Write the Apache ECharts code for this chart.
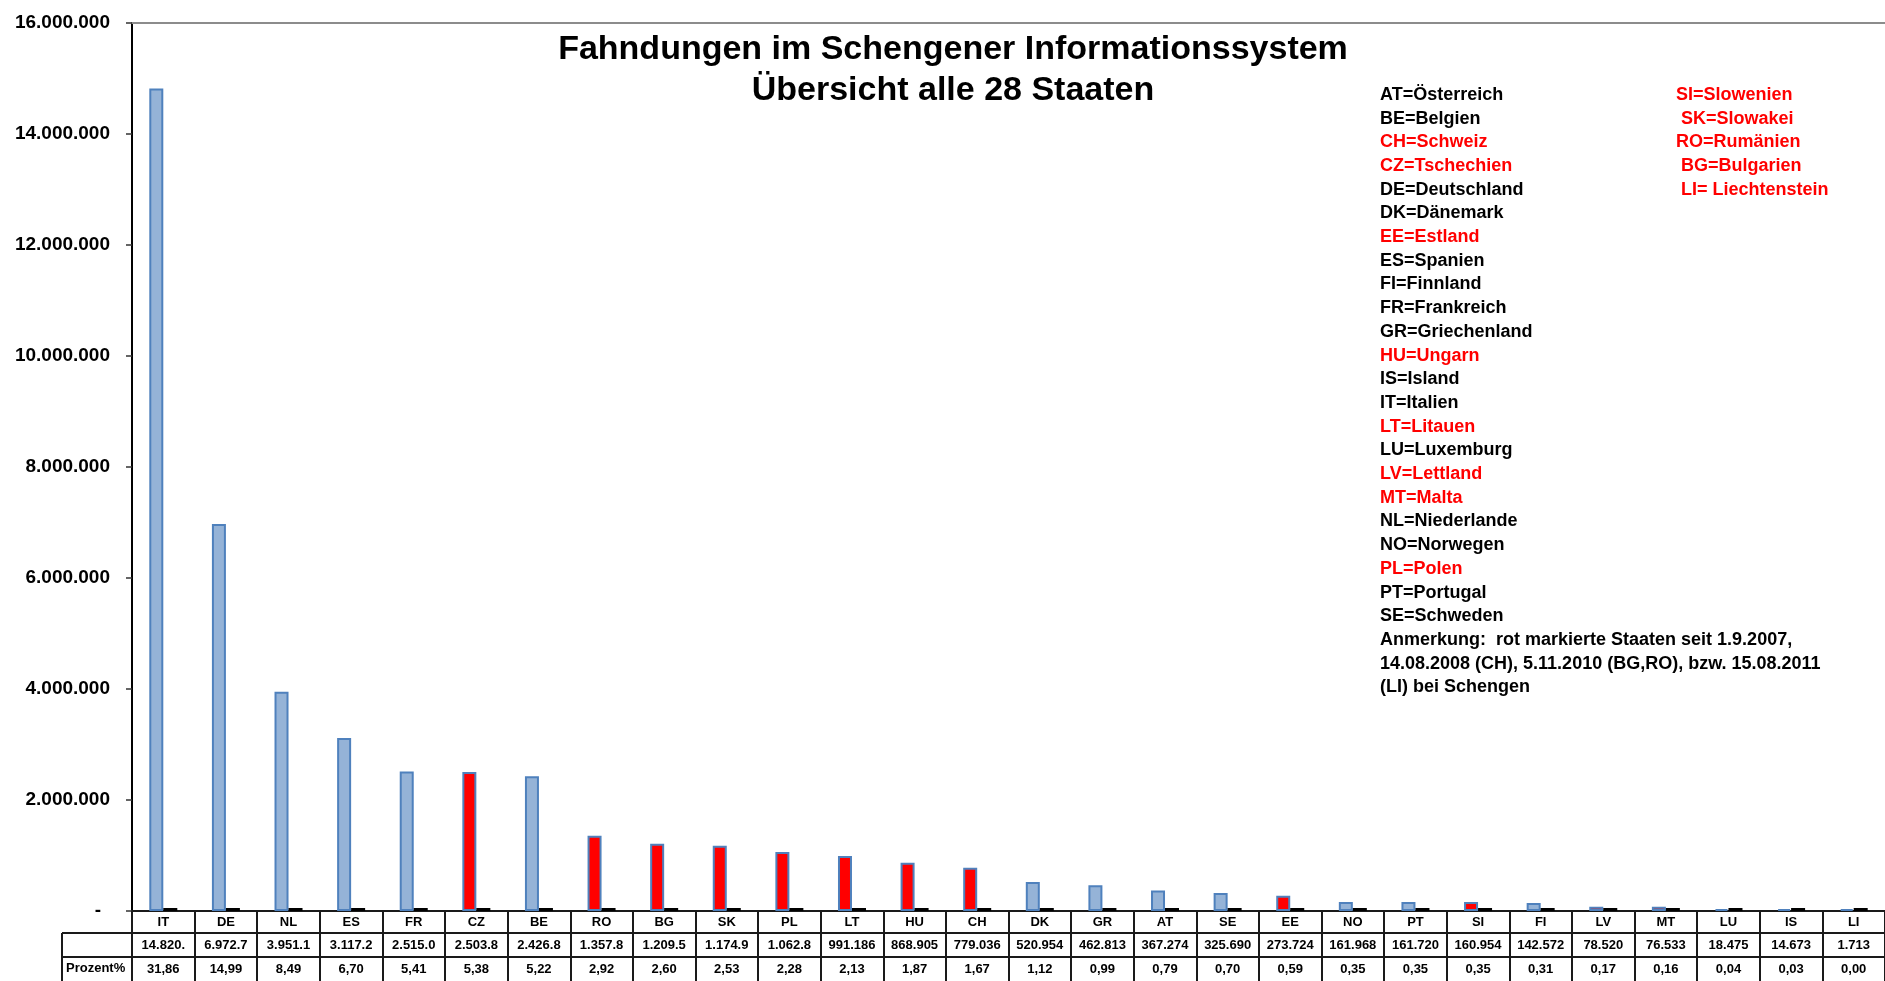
<!DOCTYPE html>
<html lang="de">
<head>
<meta charset="utf-8">
<title>Fahndungen im Schengener Informationssystem</title>
<script src="https://cdn.jsdelivr.net/npm/echarts@6/dist/echarts.min.js"></script>
<style>
  html, body { margin: 0; padding: 0; background: #fff; }
  #chart { width: 1885px; height: 981px; }
</style>
</head>
<body>
<div id="chart"></div>
<script>
// Staaten, sortiert nach Anzahl der Fahndungen
const countries = ['IT','DE','NL','ES','FR','CZ','BE','RO','BG','SK','PL','LT','HU','CH',
                   'DK','GR','AT','SE','EE','NO','PT','SI','FI','LV','MT','LU','IS','LI'];
// Anzahl Fahndungen je Staat
const alerts = [14820000, 6972700, 3951100, 3117200, 2515000, 2503800, 2426800, 1357800,
                1209500, 1174900, 1062800, 991186, 868905, 779036, 520954, 462813, 367274,
                325690, 273724, 161968, 161720, 160954, 142572, 78520, 76533, 18475, 14673, 1713];
// Anteil in Prozent
const percent = [31.86, 14.99, 8.49, 6.70, 5.41, 5.38, 5.22, 2.92, 2.60, 2.53, 2.28, 2.13, 1.87,
                 1.67, 1.12, 0.99, 0.79, 0.70, 0.59, 0.35, 0.35, 0.35, 0.31, 0.17, 0.16, 0.04, 0.03, 0.00];
// Staaten, die erst ab 2007 bzw. später dazukamen (rot markiert)
const lateMembers = ['CZ','EE','HU','LT','LV','MT','PL','SI','SK','CH','RO','BG','LI'];
// Achsenbeschriftung
const yTicks = { min: 0, max: 16000000, interval: 2000000 };

// Erklärung der Kürzel
const namesLeft = [
  ['AT','Österreich'], ['BE','Belgien'], ['CH','Schweiz'], ['CZ','Tschechien'],
  ['DE','Deutschland'], ['DK','Dänemark'], ['EE','Estland'], ['ES','Spanien'],
  ['FI','Finnland'], ['FR','Frankreich'], ['GR','Griechenland'], ['HU','Ungarn'],
  ['IS','Island'], ['IT','Italien'], ['LT','Litauen'], ['LU','Luxemburg'],
  ['LV','Lettland'], ['MT','Malta'], ['NL','Niederlande'], ['NO','Norwegen'],
  ['PL','Polen'], ['PT','Portugal'], ['SE','Schweden']
];
const namesRight = [
  ['SI','Slowenien'], [' SK','Slowakei'], ['RO','Rumänien'], [' BG','Bulgarien'], [' LI',' Liechtenstein']
];
const noteLines = [
  'Anmerkung:  rot markierte Staaten seit 1.9.2007,',
  '14.08.2008 (CH), 5.11.2010 (BG,RO), bzw. 15.08.2011',
  '(LI) bei Schengen'
];
const titleLines = ['Fahndungen im Schengener Informationssystem', 'Übersicht alle 28 Staaten'];

// ---- Darstellung ----
const FONT = "'Liberation Sans', Arial, sans-serif";
const RED = '#ff0000';
const BAR_FILL = '#95b3d7';
const BAR_EDGE = '#4f81bd';
const GRID = { left: 132, top: 23, width: 1758, height: 888 };
const ROW1 = 22, ROW2 = 24, ROW3 = 24;
const tableTop = GRID.top + GRID.height;

function groupThousands(v) {
  return String(Math.round(v)).replace(/\B(?=(\d{3})+(?!\d))/g, '.');
}
function cellValue(v) {
  // Zelle ist schmal: längere Zahlen werden abgeschnitten
  return groupThousands(v).slice(0, 7);
}
function cellPercent(v) {
  return v.toFixed(2).replace('.', ',');
}
const isLate = code => lateMembers.indexOf(code.trim()) >= 0;

function legendText(entries) {
  return entries.map(([code, name]) =>
    '{' + (isLate(code) ? 'r' : 'k') + '|' + code + '=' + name + '}').join('\n');
}

const legendRich = {
  k: { color: '#000', fontFamily: FONT, fontWeight: 'bold', fontSize: 18, lineHeight: 23.7 },
  r: { color: RED, fontFamily: FONT, fontWeight: 'bold', fontSize: 18, lineHeight: 23.7 }
};
const leftBlock = legendText(namesLeft) + '\n' + noteLines.map(t => '{k|' + t + '}').join('\n');

const tableAxisBase = {
  type: 'category',
  data: countries,
  position: 'bottom',
  boundaryGap: true,
  axisLine: { show: true, lineStyle: { color: '#1a1a1a', width: 2 } },
  axisTick: { show: true, interval: 0, inside: false, lineStyle: { color: '#1a1a1a', width: 2 } },
  splitLine: { show: false }
};
const tableLabel = { interval: 0, color: '#000', fontFamily: FONT, fontWeight: 'bold', fontSize: 13 };

const chart = echarts.init(document.getElementById('chart'), null, { renderer: 'canvas' });

chart.setOption({
  animation: false,
  backgroundColor: '#fff',
  grid: GRID,
  title: [
    {
      text: titleLines.join('\n'),
      left: 948, top: 24, textAlign: 'center',
      textStyle: { fontFamily: FONT, fontWeight: 'bold', fontSize: 34, lineHeight: 41, color: '#000' }
    },
    {
      text: leftBlock, left: 1375, top: 78,
      textStyle: { rich: legendRich, lineHeight: 23.7 }
    },
    {
      text: legendText(namesRight), left: 1671, top: 78,
      textStyle: { rich: legendRich, lineHeight: 23.7 }
    }
  ],
  xAxis: [
    Object.assign({}, tableAxisBase, {
      offset: 0,
      axisTick: Object.assign({}, tableAxisBase.axisTick, { length: ROW1 }),
      axisLabel: Object.assign({}, tableLabel, { margin: 5 })
    }),
    Object.assign({}, tableAxisBase, {
      offset: ROW1,
      axisTick: Object.assign({}, tableAxisBase.axisTick, { length: ROW2 }),
      axisLabel: Object.assign({}, tableLabel, {
        margin: 6,
        formatter: (val, idx) => cellValue(alerts[idx])
      })
    }),
    Object.assign({}, tableAxisBase, {
      offset: ROW1 + ROW2,
      axisTick: Object.assign({}, tableAxisBase.axisTick, { length: ROW3 }),
      axisLabel: Object.assign({}, tableLabel, {
        margin: 6,
        formatter: (val, idx) => cellPercent(percent[idx])
      })
    }),
    {
      type: 'category', data: countries, position: 'top',
      axisLine: { show: true, lineStyle: { color: '#8c8c8c', width: 2 } },
      axisTick: { show: false }, axisLabel: { show: false }, splitLine: { show: false }
    }
  ],
  yAxis: {
    type: 'value',
    min: yTicks.min, max: yTicks.max, interval: yTicks.interval,
    axisLine: { show: true, lineStyle: { color: '#000', width: 2 } },
    axisTick: { show: true, length: 6, lineStyle: { color: '#333', width: 1.5 } },
    splitLine: { show: false },
    axisLabel: {
      margin: 22, color: '#000', fontFamily: FONT, fontWeight: 'bold', fontSize: 19,
      formatter: v => v === 0 ? '{z|-}' : groupThousands(v),
      rich: { z: { fontFamily: FONT, fontWeight: 'bold', fontSize: 19, color: '#000', padding: [0, 9, 0, 0] } }
    }
  },
  series: [
    {
      name: 'Fahndungen',
      type: 'bar',
      xAxisIndex: 0,
      barWidth: 14,
      barGap: '0%',
      barMinHeight: 2,
      data: alerts.map((v, i) => ({
        value: v,
        itemStyle: {
          color: isLate(countries[i]) ? RED : BAR_FILL,
          borderColor: BAR_EDGE, borderWidth: 2
        }
      }))
    },
    {
      name: 'Prozent%',
      type: 'bar',
      xAxisIndex: 0,
      barWidth: 14,
      barGap: '0%',
      barMinHeight: 3,
      itemStyle: { color: '#000' },
      data: percent
    }
  ],
  graphic: [
    { type: 'line', shape: { x1: 62, y1: tableTop + ROW1, x2: GRID.left, y2: tableTop + ROW1 },
      style: { stroke: '#1a1a1a', lineWidth: 2 } },
    { type: 'line', shape: { x1: 62, y1: tableTop + ROW1 + ROW2, x2: GRID.left, y2: tableTop + ROW1 + ROW2 },
      style: { stroke: '#1a1a1a', lineWidth: 2 } },
    { type: 'line', shape: { x1: 62, y1: tableTop + ROW1, x2: 62, y2: tableTop + ROW1 + ROW2 + ROW3 },
      style: { stroke: '#1a1a1a', lineWidth: 2 } },
    { type: 'text', left: 66, top: tableTop + ROW1 + ROW2 + 5,
      style: { text: 'Prozent%', fill: '#000', font: 'bold 13px ' + FONT } }
  ]
});
</script>
</body>
</html>
